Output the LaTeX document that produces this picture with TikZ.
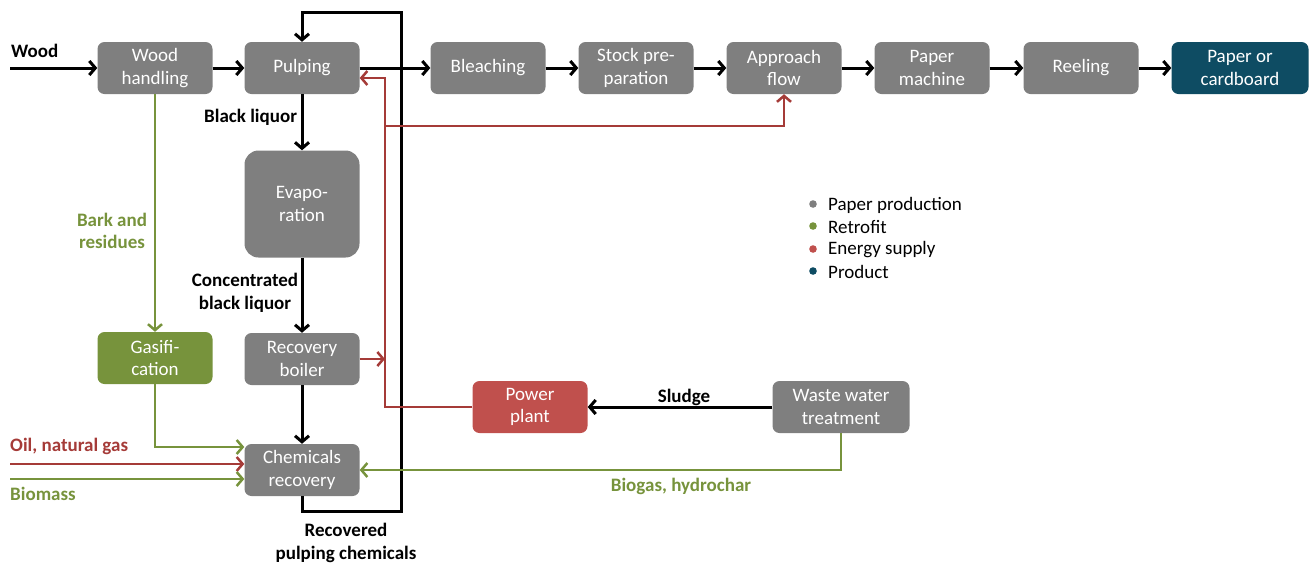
\documentclass[tikz,border=0pt]{standalone}
\usepackage{fontspec}
\setmainfont{Carlito}
\usetikzlibrary{arrows.meta}
\definecolor{pgray}{HTML}{7F7F7F}
\definecolor{pgreen}{HTML}{77933C}
\definecolor{pred}{HTML}{C0504D}
\definecolor{lred}{HTML}{A53B38}
\definecolor{pblue}{HTML}{0E4C63}
\begin{document}
\begin{tikzpicture}[x=1pt,y=-1pt,
 box/.style={rounded corners=7pt, fill=pgray, text=white, minimum width=115pt, minimum height=52pt, align=center, inner sep=0pt, font=\fontsize{19}{22.5}\selectfont},
 flow/.style={-{Straight Barb[length=6pt,width=14pt]}},
 bflow/.style={flow, draw=black, line width=3pt},
 rflow/.style={flow, draw=lred, line width=2.5pt},
 gflow/.style={flow, draw=pgreen, line width=2.5pt},
 lbl/.style={font=\bfseries\fontsize{19}{22.5}\selectfont, align=center, inner sep=0pt},
 leg/.style={font=\fontsize{19}{22.5}\selectfont, anchor=west, inner sep=0pt}
]
\useasboundingbox (0,0) rectangle (1311,566);
% nodes
\node[box] (wh) at (155,68) {Wood\\handling};
\node[box] (pulp) at (302,68) {Pulping};
\node[box] (bl) at (488,68) {Bleaching};
\node[box] (sp) at (636,68) {Stock pre-\\paration};
\node[box] (af) at (784,68) {Approach\\flow};
\node[box] (pm) at (932,68) {Paper\\machine};
\node[box] (re) at (1081,68) {Reeling};
\node[box, fill=pblue, minimum width=137pt] (pc) at (1240,68) {Paper or\\cardboard};
\node[box, minimum height=107pt, rounded corners=14pt] (ev) at (302,204) {Evapo-\\ration};
\node[box, fill=pgreen] (gas) at (155,358) {Gasifi-\\cation};
\node[box] (rb) at (302,359) {Recovery\\boiler};
\node[box] (chem) at (302,470) {Chemicals\\recovery};
\node[box, fill=pred] (pp) at (530,407) {Power\\plant};
\node[box, minimum width=137pt] (wwt) at (841,407) {Waste water\\treatment};
% free ends
\coordinate (wood) at (10,68);
\coordinate (oil) at (10,464);
\coordinate (bio) at (10,479);
\coordinate (rtop) at (385,78);
\coordinate (rbr) at (385,126);
\coordinate (ktop) at (401,12);
% black loop
\draw[bflow] (chem.south) -- ++(0,15) -| (ktop) -| (pulp.north);
% main line
\draw[bflow] (wood) -- (wh.west);
\draw[bflow] (wh) -- (pulp);
\draw[bflow] (pulp) -- (bl);
\draw[bflow] (bl) -- (sp);
\draw[bflow] (sp) -- (af);
\draw[bflow] (af) -- (pm);
\draw[bflow] (pm) -- (re);
\draw[bflow] (re) -- (pc);
\draw[bflow] (pulp) -- (ev);
\draw[bflow] (ev) -- (rb);
\draw[bflow] (rb) -- (chem);
\draw[bflow] (wwt) -- (pp);
% red
\draw[rflow] (pp.west) -| (rtop) -- (rtop -| pulp.east);
\draw[rflow] (rbr) -| (af.south);
\draw[rflow] (rb.east) -- (rb.east -| rtop);
\draw[rflow] (oil) -- (oil -| chem.west);
% green
\draw[gflow] (wh.south) -- (gas.north);
\draw[gflow] (gas.south) |- ([yshift=23pt]chem.west);
\draw[gflow] (bio) -- (bio -| chem.west);
\draw[gflow] (wwt.south) |- (chem.east);
% labels
\node[lbl, anchor=west] at (11,51) {Wood};
\node[lbl, anchor=west] at (204,117) {Black liquor};
\node[lbl] at (245,293) {Concentrated\\black liquor};
\node[lbl] at (346,543) {Recovered\\pulping chemicals};
\node[lbl, text=pgreen] at (112,231) {Bark and\\residues};
\node[lbl, text=lred, anchor=west] at (10,446) {Oil, natural gas};
\node[lbl, text=pgreen, anchor=west] at (10,494) {Biomass};
\node[lbl] at (684,397) {Sludge};
\node[lbl, text=pgreen] at (681,486) {Biogas, hydrochar};
% legend
\fill[pgray] (813,204) circle (3.8pt);
\fill[pgreen] (813,226) circle (3.8pt);
\fill[pred] (813,249) circle (3.8pt);
\fill[pblue] (813,271) circle (3.8pt);
\node[leg] at (828,205) {Paper production};
\node[leg] at (828,227) {Retrofit};
\node[leg] at (828,250) {Energy supply};
\node[leg] at (828,272) {Product};
\end{tikzpicture}
\end{document}
